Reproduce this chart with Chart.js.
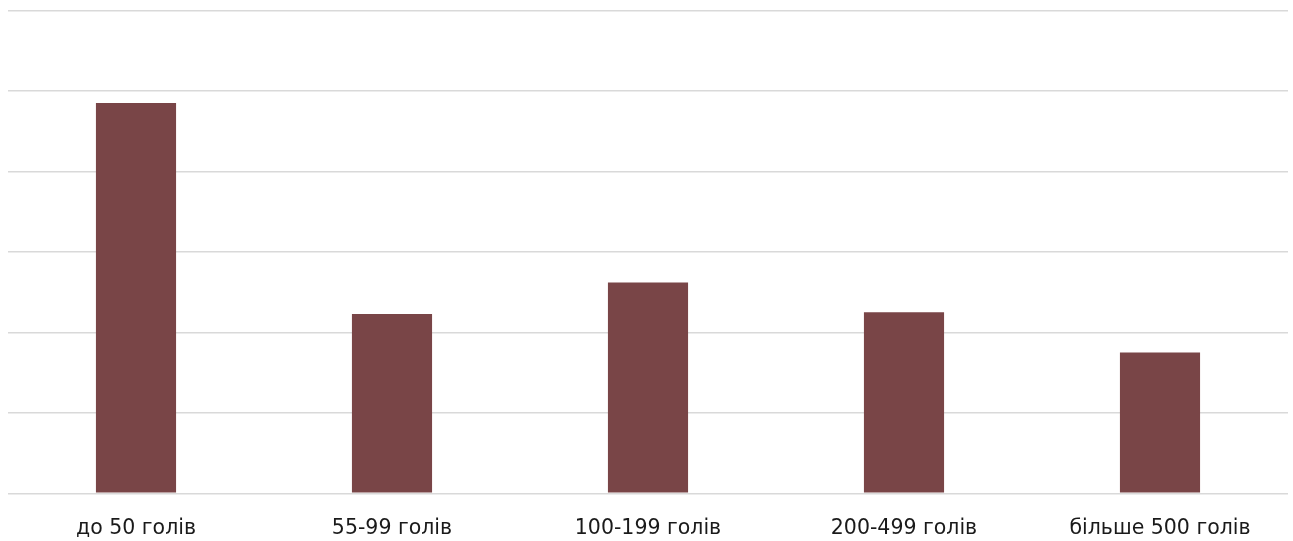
<!DOCTYPE html>
<html>
<head>
<meta charset="utf-8">
<script src="https://cdn.jsdelivr.net/npm/chart.js@4/dist/chart.umd.min.js"></script>
<style>
  html, body { margin: 0; padding: 0; background: #fff; }
  #wrap { width: 1293px; height: 541px; position: relative; }
</style>
</head>
<body>
<div id="wrap"><canvas id="c"></canvas></div>
<script>
// Herd size groups and their values
const categories = ['до 50 голів', '55-99 голів', '100-199 голів', '200-499 голів', 'більше 500 голів'];
const values = [48.5, 22.3, 26.2, 22.5, 17.5];
const axisMax = 60;
const axisStep = 10;

new Chart(document.getElementById('c'), {
  type: 'bar',
  data: {
    labels: categories,
    datasets: [{
      data: values,
      backgroundColor: '#794547',
      borderWidth: 0,
      categoryPercentage: 1,
      barPercentage: 0.313
    }]
  },
  options: {
    responsive: true,
    maintainAspectRatio: false,
    animation: false,
    layout: { padding: { left: 8, right: 5, top: 10.5, bottom: 0 } },
    plugins: { legend: { display: false }, tooltip: { enabled: false } },
    scales: {
      x: {
        grid: { display: false, drawTicks: true, tickLength: 23 },
        border: { display: false },
        ticks: {
          color: '#1a1a1a',
          font: { family: 'DejaVu Sans', size: 20.5 },
          padding: 0,
          maxRotation: 0
        }
      },
      y: {
        min: 0,
        max: axisMax,
        ticks: { display: false, stepSize: axisStep },
        grid: { color: '#d9d9d9', lineWidth: 1.6, drawTicks: false },
        border: { display: false }
      }
    }
  }
});
</script>
</body>
</html>
